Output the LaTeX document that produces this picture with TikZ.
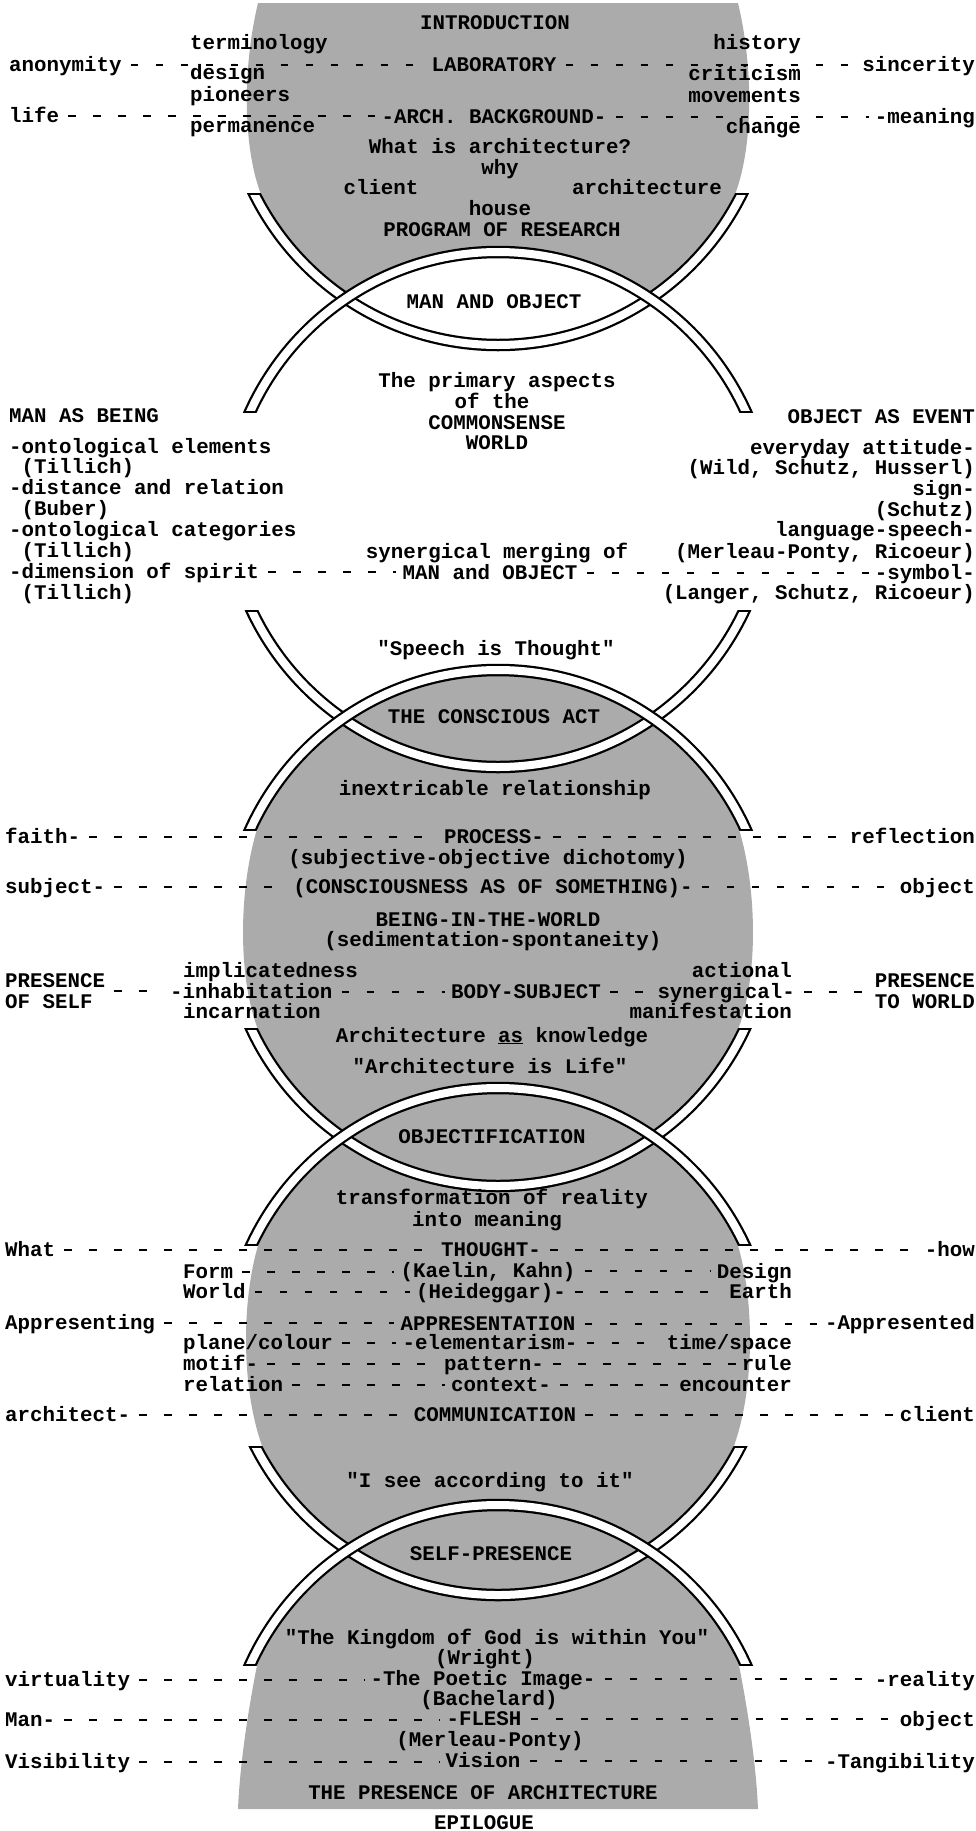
\documentclass[tikz,border=0pt]{standalone}
\usepackage{fontspec}
\newfontfamily\tw{Liberation Mono}
\tikzset{
  gfill/.style={fill=black!33},
  t/.style={font=\tw\bfseries\fontsize{20.8pt}{20.7pt}\selectfont, inner sep=0pt, text height=12pt, text depth=0pt},
  ml/.style={font=\tw\bfseries\fontsize{20.8pt}{20.4pt}\selectfont, inner sep=0pt, align=left},
  dashln/.style={line width=2.8pt, dash pattern=on 7.5pt off 17.5pt, shorten <=9pt, shorten >=6pt},
}
\newcommand\bandU[2]{% centre y, end y (U shaped band)
  \begin{scope}\clip (0,#2-2) rectangle (976,#1+320); \draw[line width=12.5pt] (498,#1) circle (272pt);\end{scope}
  \begin{scope}\clip (0,#2) rectangle (976,#1+320); \draw[white,line width=8pt] (498,#1) circle (272pt);\end{scope}}
\newcommand\bandN[2]{% centre y, end y (cap shaped band)
  \begin{scope}\clip (0,#1-320) rectangle (976,#2+2); \draw[line width=12.5pt] (498,#1) circle (272pt);\end{scope}
  \begin{scope}\clip (0,#1-320) rectangle (976,#2); \draw[white,line width=8pt] (498,#1) circle (272pt);\end{scope}}
\begin{document}
\begin{tikzpicture}[x=1pt,y=-1pt]
\useasboundingbox (0,0) rectangle (976,1831);
% ---------- grey fields ----------
\fill[gfill] (258,3) -- (738,3) .. controls (754,70) and (753,150) .. (734,197) -- (262,197) .. controls (243,150) and (242,70) .. (258,3) -- cycle;
\begin{scope}\clip (0,195) rectangle (976,420);
  \fill[gfill] (498,73) circle (275pt);
  \fill[white] (498,524) circle (272pt);
\end{scope}
\begin{scope}\clip (0,600) rectangle (976,829);
  \fill[gfill] (498,942) circle (275pt);
\end{scope}
\fill[gfill] (257.7,827) .. controls (238,890) and (238,980) .. (258.6,1031) -- (737.4,1031) .. controls (758,980) and (758,890) .. (738.3,827) -- cycle;
\begin{scope}\clip (0,1030) rectangle (976,1244);
  \fill[gfill] (498,914) circle (275pt);
  \fill[gfill] (498,1360) circle (275pt);
\end{scope}
\fill[gfill] (259.1,1242) .. controls (241,1300) and (241,1390) .. (263.2,1449) -- (732.8,1449) .. controls (755,1390) and (755,1300) .. (736.9,1242) -- cycle;
\begin{scope}\clip (0,1448) rectangle (976,1664);
  \fill[gfill] (498,1323) circle (275pt);
  \fill[gfill] (498,1777) circle (275pt);
\end{scope}
\fill[gfill] (257.7,1662) .. controls (250,1700) and (240,1760) .. (238,1809) -- (758,1809) .. controls (756,1760) and (746,1700) .. (738.3,1662) -- cycle;
% ---------- bands ----------
\bandU{73}{195}  \bandN{524}{410}
\bandU{495}{612} \bandN{942}{828}
\bandU{914}{1030} \bandN{1360}{1243}
\bandU{1323}{1448} \bandN{1777}{1663}
% ---------- texts: introduction ----------
\node[t] (intro) at (495,23) {INTRODUCTION};
\node[t,anchor=west] (term) at (190,43) {terminology};
\node[t,anchor=east] (hist) at (801,43) {history};
\node[t,anchor=west] (anon) at (9,65) {anonymity};
\node[t] (lab) at (494,65) {LABORATORY};
\node[t,anchor=east] (sinc) at (975,65) {sincerity};
\node[t,anchor=west] (design) at (190,73) {design};
\node[t,anchor=east] (crit) at (801,74) {criticism};
\node[t,anchor=west] (pion) at (190,95) {pioneers};
\node[t,anchor=east] (move) at (801,96) {movements};
\node[t,anchor=west] (life) at (9,116) {life};
\node[t] (arch) at (494,117) {-ARCH. BACKGROUND-};
\node[t,anchor=east] (mean) at (975,117) {-meaning};
\node[t,anchor=west] (perm) at (190,126) {permanence};
\node[t,anchor=east] (change) at (801,127) {change};
\node[t] (whatis) at (500,147) {What is architecture?};
\node[t] (why) at (500,168) {why};
\node[t] (client1) at (381,188) {client};
\node[t] (archi) at (647,188) {architecture};
\node[t] (house) at (500,209) {house};
\node[t] (prog) at (502,230) {PROGRAM OF RESEARCH};
\node[t] (mao) at (494,302) {MAN AND OBJECT};
\node[t] (prima) at (497,381) {The primary aspects};
\node[t] (primb) at (492,402) {of the};
\node[t] (primc) at (497,423) {COMMONSENSE};
\node[t] (primd) at (497,443) {WORLD};
% ---------- man / object columns ----------
\node[t,anchor=west] (manbeing) at (9,416) {MAN AS BEING};
\node[t,anchor=west] (ont1) at (9,447) {-ontological elements};
\node[t,anchor=west] (till1) at (21.5,467) {(Tillich)};
\node[t,anchor=west] (dist) at (9,488) {-distance and relation};
\node[t,anchor=west] (buber) at (21.5,509) {(Buber)};
\node[t,anchor=west] (ont2) at (9,530) {-ontological categories};
\node[t,anchor=west] (till2) at (21.5,551) {(Tillich)};
\node[t,anchor=west] (dim) at (9,572) {-dimension of spirit};
\node[t,anchor=west] (till3) at (21.5,593) {(Tillich)};
\node[t,anchor=east] (objev) at (975,417) {OBJECT AS EVENT};
\node[t,anchor=east] (every) at (975,448) {everyday attitude-};
\node[t,anchor=east] (wild) at (975,468) {(Wild, Schutz, Husserl)};
\node[t,anchor=east] (sign) at (975,489) {sign-};
\node[t,anchor=east] (schutz) at (975,510) {(Schutz)};
\node[t,anchor=east] (lang) at (975,530) {language-speech-};
\node[t,anchor=east] (merl1) at (975,552) {(Merleau-Ponty, Ricoeur)};
\node[t,anchor=east] (symb) at (975,573) {-symbol-};
\node[t,anchor=east] (langer) at (975,593) {(Langer, Schutz, Ricoeur)};
\node[t] (synm) at (497,552) {synergical merging of};
\node[t] (mando) at (490,573) {MAN and OBJECT};
% ---------- conscious act ----------
\node[t] (speech) at (496,649) {"Speech is Thought"};
\node[t] (conact) at (494,717) {THE CONSCIOUS ACT};
\node[t] (inext) at (495,789) {inextricable relationship};
\node[t,anchor=west] (faith) at (5,837) {faith-};
\node[t] (process) at (494,837) {PROCESS-};
\node[t,anchor=east] (refl) at (975,837) {reflection};
\node[t] (subob) at (488,858) {(subjective-objective dichotomy)};
\node[t,anchor=west] (subj) at (5,887) {subject-};
\node[t] (consc) at (493,887) {(CONSCIOUSNESS AS OF SOMETHING)-};
\node[t,anchor=east] (obj1) at (975,887) {object};
\node[t] (being) at (488,920) {BEING-IN-THE-WORLD};
\node[t] (sedim) at (493,940) {(sedimentation-spontaneity)};
\node[t,anchor=west] (impl) at (183,971) {implicatedness};
\node[t,anchor=east] (actional) at (792,971) {actional};
\node[ml,anchor=west] (presself) at (5,991) {PRESENCE\\OF SELF};
\node[t,anchor=west] (inhab) at (170,992) {-inhabitation};
\node[t] (bodys) at (526,992) {BODY-SUBJECT};
\node[t,anchor=east] (synerg) at (795,992) {synergical-};
\node[ml,anchor=east] (presworld) at (975,991) {PRESENCE\\TO WORLD};
\node[t,anchor=west] (incarn) at (183,1012) {incarnation};
\node[t,anchor=east] (manif) at (792,1012) {manifestation};
\node[t] (archknow) at (492,1036) {Architecture \underline{as} knowledge};
\node[t] (archlife) at (490,1067) {"Architecture is Life"};
% ---------- objectification ----------
\node[t] (objectif) at (492,1137) {OBJECTIFICATION};
\node[t] (transf) at (492,1198) {transformation of reality};
\node[t] (meaning) at (487,1220) {into meaning};
\node[t,anchor=west] (what) at (5,1250) {What};
\node[t] (thought) at (491,1250) {THOUGHT-};
\node[t,anchor=east] (how) at (975,1250) {-how};
\node[t,anchor=west] (form) at (183,1272) {Form};
\node[t] (kaelin) at (488,1271) {(Kaelin, Kahn)};
\node[t,anchor=east] (design2) at (792,1272) {Design};
\node[t,anchor=west] (world) at (183,1292) {World};
\node[t] (heid) at (491,1292) {(Heideggar)-};
\node[t,anchor=east] (earth) at (792,1292) {Earth};
\node[t,anchor=west] (appg) at (5,1323) {Appresenting};
\node[t] (appn) at (488,1324) {APPRESENTATION};
\node[t,anchor=east] (appd) at (975,1323) {-Appresented};
\node[t,anchor=west] (plane) at (183,1343) {plane/colour};
\node[t] (elem) at (490,1343) {-elementarism-};
\node[t,anchor=east] (time) at (792,1343) {time/space};
\node[t,anchor=west] (motif) at (183,1364) {motif-};
\node[t] (pattern) at (494,1364) {pattern-};
\node[t,anchor=east] (rule) at (792,1364) {rule};
\node[t,anchor=west] (relation) at (183,1385) {relation};
\node[t] (context) at (501,1385) {context-};
\node[t,anchor=east] (encounter) at (792,1385) {encounter};
\node[t,anchor=west] (architect) at (5,1415) {architect-};
\node[t] (comm) at (495,1415) {COMMUNICATION};
\node[t,anchor=east] (client2) at (975,1415) {client};
% ---------- self presence ----------
\node[t] (isee) at (490,1481) {"I see according to it"};
\node[t] (selfp) at (491,1554) {SELF-PRESENCE};
\node[t] (kingdom) at (497,1638) {"The Kingdom of God is within You"};
\node[t] (wright) at (485,1658) {(Wright)};
\node[t,anchor=west] (virt) at (5,1680) {virtuality};
\node[t] (poetic) at (483,1679) {-The Poetic Image-};
\node[t,anchor=east] (reality) at (975,1680) {-reality};
\node[t] (bach) at (489,1699) {(Bachelard)};
\node[t,anchor=west] (man) at (5,1720) {Man-};
\node[t] (flesh) at (484,1719) {-FLESH};
\node[t,anchor=east] (obj2) at (975,1720) {object};
\node[t] (merl2) at (490,1740) {(Merleau-Ponty)};
\node[t,anchor=west] (visib) at (5,1762) {Visibility};
\node[t] (vision) at (483,1761) {Vision};
\node[t,anchor=east] (tang) at (975,1762) {-Tangibility};
\node[t] (presarch) at (483,1793) {THE PRESENCE OF ARCHITECTURE};
\node[t] (epil) at (484,1823) {EPILOGUE};
% ---------- dashed connectors ----------
\foreach \a/\b in {anon/lab,lab/sinc,life/arch,arch/mean,dim/mando,mando/symb,
  faith/process,process/refl,subj/consc,consc/obj1,presself/inhab,inhab/bodys,bodys/synerg,synerg/presworld,
  what/thought,thought/how,form/kaelin,kaelin/design2,world/heid,heid/earth,
  appg/appn,appn/appd,plane/elem,elem/time,motif/pattern,pattern/rule,relation/context,context/encounter,
  architect/comm,comm/client2,virt/poetic,poetic/reality,man/flesh,flesh/obj2,visib/vision,vision/tang}
  \draw[dashln] (\a.east) -- (\a.east -| \b.west);
\end{tikzpicture}
\end{document}
